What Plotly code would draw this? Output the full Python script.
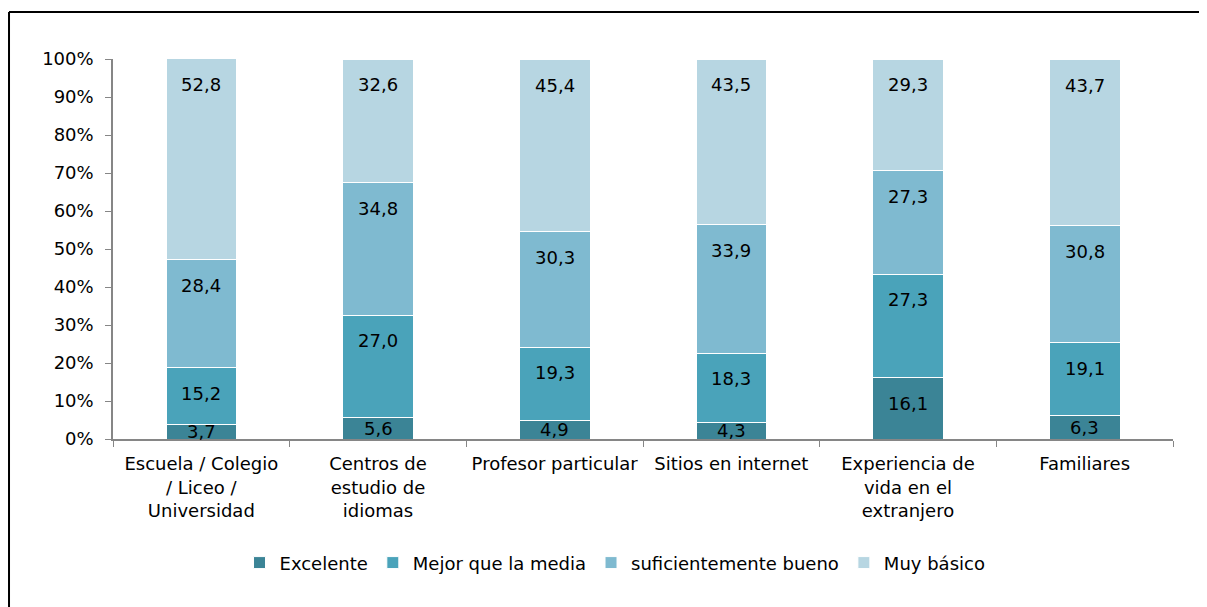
import plotly.graph_objects as go

categories = [
    "Escuela / Colegio<br>/ Liceo /<br>Universidad",
    "Centros de<br>estudio de<br>idiomas",
    "Profesor particular",
    "Sitios en internet",
    "Experiencia de<br>vida en el<br>extranjero",
    "Familiares",
]
series_names = ["Excelente", "Mejor que la media", "suficientemente bueno", "Muy básico"]
excelente = [3.7, 5.6, 4.9, 4.3, 16.1, 6.3]
mejor = [15.2, 27.0, 19.3, 18.3, 27.3, 19.1]
suficiente = [28.4, 34.8, 30.3, 33.9, 27.3, 30.8]
basico = [52.8, 32.6, 45.4, 43.5, 29.3, 43.7]
colors = ["#3B8496", "#4AA3BA", "#7FBAD0", "#B7D6E2"]
ytick_vals = [0, 10, 20, 30, 40, 50, 60, 70, 80, 90, 100]
ytick_text = [f"{v}%" for v in ytick_vals]

series = [excelente, mejor, suficiente, basico]

fig = go.Figure()
for name, vals, col in zip(series_names, series, colors):
    fig.add_trace(go.Bar(
        x=categories, y=vals, name=name,
        marker=dict(color=col, line=dict(color="white", width=1)),
        width=0.4,
    ))

FONT = "DejaVu Sans, Liberation Sans, Arial, sans-serif"
annotations = []
cum = [0.0] * len(categories)
for vals in series:
    for i, v in enumerate(vals):
        top = cum[i] + v
        off = min(6.8, v / 2)
        annotations.append(dict(
            x=categories[i], y=top - off, xref="x", yref="y",
            text=f"{v:.1f}".replace(".", ","), showarrow=False,
            yanchor="middle", font=dict(family=FONT, size=18, color="black"),
        ))
        cum[i] = top

# outer frame (left and top edges)
shapes = [
    dict(type="line", xref="paper", yref="paper", x0=-0.0981, x1=-0.0981, y0=1.1237, y1=-0.6,
         line=dict(color="black", width=2)),
    dict(type="line", xref="paper", yref="paper", x0=-0.0981, x1=1.2, y0=1.1237, y1=1.1237,
         line=dict(color="black", width=2)),
]

fig.update_layout(
    barmode="stack",
    width=1207, height=607,
    margin=dict(l=105, r=42, t=51, b=176),
    paper_bgcolor="white", plot_bgcolor="white",
    font=dict(family=FONT, size=18, color="black"),
    showlegend=True,
    legend=dict(orientation="h", x=0.4736, xanchor="center", y=-0.326, yanchor="middle",
                font=dict(family=FONT, size=18, color="black"), traceorder="normal"),
    annotations=annotations,
    shapes=shapes,
    xaxis=dict(showline=True, linecolor="#868686", linewidth=1.5, ticks="outside",
               tickson="boundaries", ticklen=6, tickcolor="#868686", showgrid=False,
               ticklabelstandoff=8,
               tickfont=dict(family=FONT, size=18, color="black")),
    yaxis=dict(range=[0, 100], tickvals=ytick_vals, ticktext=ytick_text, showline=True,
               linecolor="#868686", linewidth=1.5, ticks="outside", ticklen=6,
               tickcolor="#868686", showgrid=False, ticklabelstandoff=8,
               tickfont=dict(family=FONT, size=18, color="black")),
)

fig.write_html("out.html")
